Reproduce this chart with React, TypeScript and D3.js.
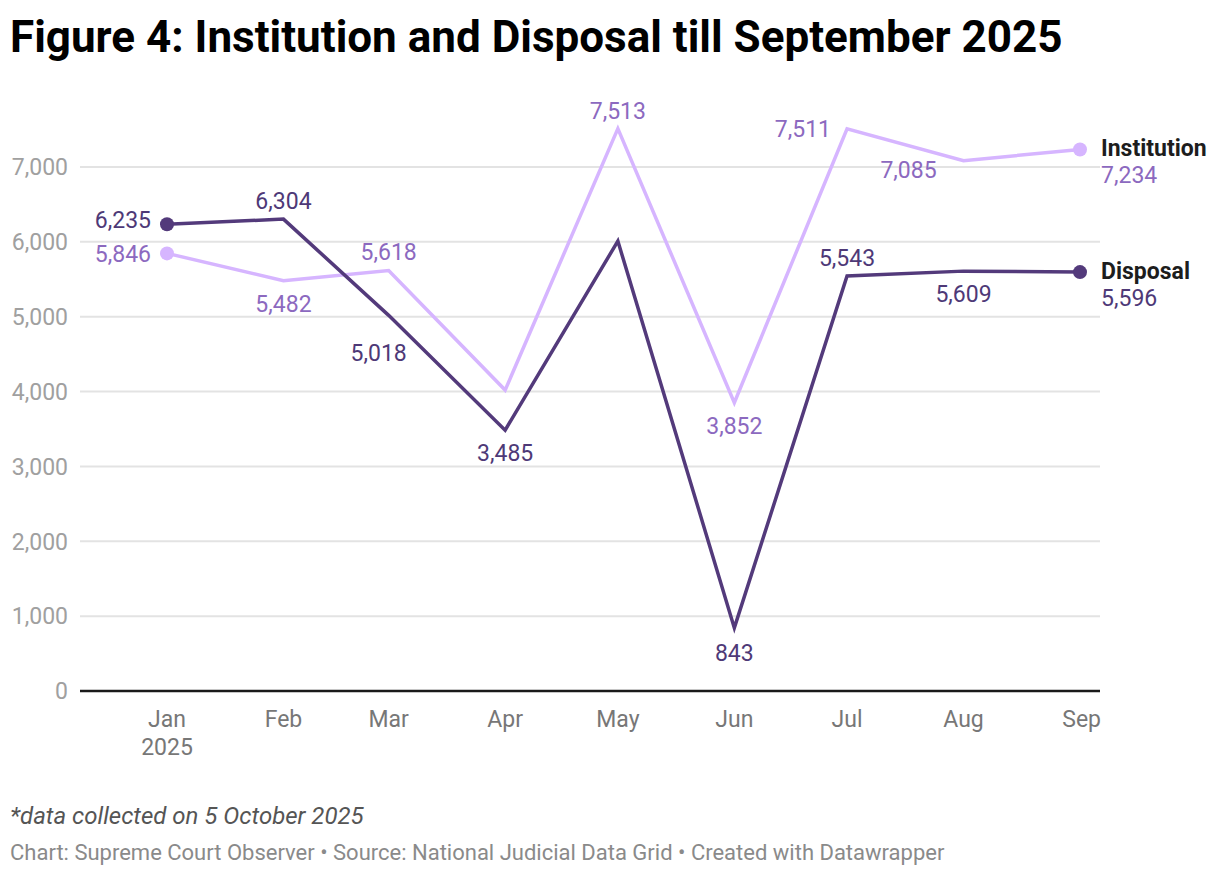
import React, { useRef, useEffect } from 'react';
import * as d3 from 'd3';

const WIDTH = 1220;
const HEIGHT = 876;
const FONT = 'Roboto, sans-serif';

const MONTHS = ['2025-01-01', '2025-02-01', '2025-03-01', '2025-04-01', '2025-05-01', '2025-06-01', '2025-07-01', '2025-08-01', '2025-09-01'];
const MONTH_LABELS = ['Jan', 'Feb', 'Mar', 'Apr', 'May', 'Jun', 'Jul', 'Aug', 'Sep'];
const INSTITUTION = [5846, 5482, 5618, 4020, 7513, 3852, 7511, 7085, 7234];
const DISPOSAL = [6235, 6304, 5018, 3485, 6010, 843, 5543, 5609, 5596];
const Y_TICKS = [0, 1000, 2000, 3000, 4000, 5000, 6000, 7000];

const INST_COLOR = '#d6b5ff';
const INST_TEXT = '#8c69bf';
const DISP_COLOR = '#533a7b';
const DISP_TEXT = '#4e3977';

// where each value label sits: above / below / left of the point, null = no label
type Pos = 'a' | 'b' | 'l' | null;
const INST_LABEL_POS: Pos[] = ['l', 'b', 'a', null, 'a', 'b', 'l', 'b', null];
const DISP_LABEL_POS: Pos[] = ['l', 'a', 'b', 'b', null, 'b', 'a', 'b', null];
// small nudges (dx, dy) so labels don't run into the lines
const INST_NUDGE = [[0, 0], [0, 0], [0, 0], [0, 0], [0, 0], [0, 0], [0, 0], [-55, -14], [0, 0]];
const DISP_NUDGE = [[0, -5], [0, 0], [-10, 15], [0, 0], [0, 0], [0, 2], [0, 0], [0, 0], [0, 0]];

const App: React.FC = () => {
  const svgRef = useRef<SVGSVGElement>(null);

  useEffect(() => {
    if (!svgRef.current) return;
    const svg = d3.select(svgRef.current);
    svg.selectAll('*').remove();

    const dates = MONTHS.map((m) => new Date(m + 'T00:00:00'));
    const x = d3.scaleTime().domain([dates[0], dates[dates.length - 1]]).range([167, 1080]);
    const y = d3.scaleLinear().domain([0, 7000]).range([691, 167]);
    const fmt = d3.format(',');

    // title
    svg.append('text')
      .attr('x', 10)
      .attr('y', 52)
      .attr('font-family', FONT)
      .attr('font-weight', 'bold')
      .attr('font-size', '44px')
      .attr('fill', '#000')
      .text('Figure 4: Institution and Disposal till September 2025');

    // gridlines + y labels
    Y_TICKS.forEach((t) => {
      if (t > 0) {
        svg.append('line')
          .attr('x1', 80).attr('x2', 1100)
          .attr('y1', y(t)).attr('y2', y(t))
          .attr('stroke', '#e3e3e3')
          .attr('stroke-width', 2);
      }
      svg.append('text')
        .attr('x', 68)
        .attr('y', y(t))
        .attr('dy', '0.36em')
        .attr('text-anchor', 'end')
        .attr('font-family', FONT)
        .attr('font-size', '23px')
        .attr('fill', '#a0a0a0')
        .text(fmt(t));
    });

    // baseline
    svg.append('line')
      .attr('x1', 80).attr('x2', 1100)
      .attr('y1', y(0)).attr('y2', y(0))
      .attr('stroke', '#1a1a1a')
      .attr('stroke-width', 2.5);

    // x labels
    dates.forEach((d, i) => {
      const isLast = i === dates.length - 1;
      svg.append('text')
        .attr('x', isLast ? 1101 : x(d))
        .attr('y', 727)
        .attr('text-anchor', isLast ? 'end' : 'middle')
        .attr('font-family', FONT)
        .attr('font-size', '23px')
        .attr('fill', '#777')
        .text(MONTH_LABELS[i]);
      if (i === 0) {
        svg.append('text')
          .attr('x', x(d))
          .attr('y', 755)
          .attr('text-anchor', 'middle')
          .attr('font-family', FONT)
          .attr('font-size', '23px')
          .attr('fill', '#777')
          .text('2025');
      }
    });

    const series = [
      { name: 'Institution', values: INSTITUTION, color: INST_COLOR, text: INST_TEXT, pos: INST_LABEL_POS, nudge: INST_NUDGE },
      { name: 'Disposal', values: DISPOSAL, color: DISP_COLOR, text: DISP_TEXT, pos: DISP_LABEL_POS, nudge: DISP_NUDGE },
    ];

    const line = d3.line<number>()
      .x((_, i) => x(dates[i]))
      .y((v) => y(v));

    series.forEach((s) => {
      svg.append('path')
        .attr('d', line(s.values) ?? '')
        .attr('fill', 'none')
        .attr('stroke', s.color)
        .attr('stroke-width', 3.5)
        .attr('stroke-linejoin', 'miter');

      [0, s.values.length - 1].forEach((i) => {
        svg.append('circle')
          .attr('cx', x(dates[i]))
          .attr('cy', y(s.values[i]))
          .attr('r', 7)
          .attr('fill', s.color);
      });

      s.values.forEach((v, i) => {
        const p = s.pos[i];
        if (!p) return;
        const px = x(dates[i]) + s.nudge[i][0];
        const py = y(v) + s.nudge[i][1];
        const t = svg.append('text')
          .attr('font-family', FONT)
          .attr('font-size', '23px')
          .attr('fill', s.text)
          .text(fmt(v));
        if (p === 'l') {
          t.attr('x', px - 16).attr('y', py).attr('dy', '0.36em').attr('text-anchor', 'end');
        } else if (p === 'a') {
          t.attr('x', px).attr('y', py - 10).attr('text-anchor', 'middle');
        } else {
          t.attr('x', px).attr('y', py + 31).attr('text-anchor', 'middle');
        }
      });

      // end label
      const last = s.values.length - 1;
      const ly = y(s.values[last]);
      svg.append('text')
        .attr('x', 1101)
        .attr('y', ly + 7)
        .attr('font-family', FONT)
        .attr('font-weight', 'bold')
        .attr('font-size', '23px')
        .attr('fill', '#1d1d1d')
        .text(s.name);
      svg.append('text')
        .attr('x', 1101)
        .attr('y', ly + 34)
        .attr('font-family', FONT)
        .attr('font-size', '23px')
        .attr('fill', s.text)
        .text(fmt(s.values[last]));
    });

    // notes
    svg.append('text')
      .attr('x', 10)
      .attr('y', 824)
      .attr('font-family', FONT)
      .attr('font-style', 'italic')
      .attr('font-size', '24px')
      .attr('fill', '#555')
      .text('*data collected on 5 October 2025');

    svg.append('text')
      .attr('x', 10)
      .attr('y', 860)
      .attr('font-family', FONT)
      .attr('font-size', '22px')
      .attr('fill', '#8a8a8a')
      .text('Chart: Supreme Court Observer • Source: National Judicial Data Grid • Created with Datawrapper');
  }, []);

  return (
    <div style={{ position: 'absolute', left: 0, top: 0, background: '#fff' }}>
      <svg ref={svgRef} width={WIDTH} height={HEIGHT} viewBox={`0 0 ${WIDTH} ${HEIGHT}`} style={{ display: 'block' }} />
    </div>
  );
};

export default App;
